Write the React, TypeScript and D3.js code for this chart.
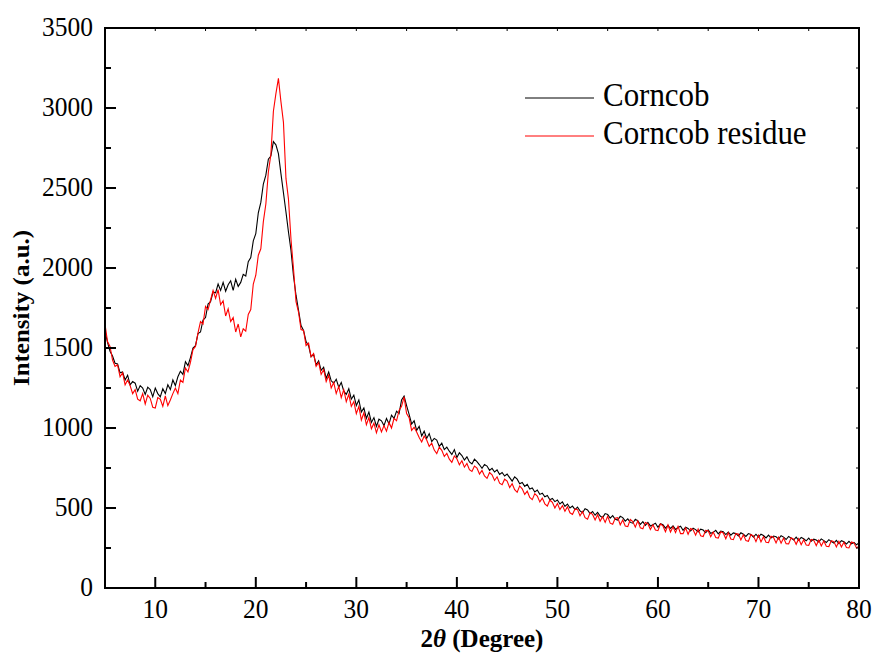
import React from "react";
import * as d3 from "d3";

// 2θ grid: 5° to 80° in 0.25° steps (301 points), one row per degree
const START = 5;
const STEP = 0.25;

// Corncob intensity (a.u.)
const corncob = [
  1605, 1535, 1480, 1450,
  1405, 1400, 1345, 1350,
  1300, 1330, 1270, 1290,
  1280, 1230, 1265, 1250,
  1210, 1255, 1240, 1195,
  1250, 1215, 1195, 1245,
  1215, 1270, 1240, 1300,
  1265, 1320, 1355, 1335,
  1415, 1390, 1440, 1500,
  1515, 1590, 1600, 1675,
  1690, 1775, 1790, 1850,
  1845, 1900, 1860, 1910,
  1855, 1895, 1920, 1860,
  1930, 1885, 1910, 1960,
  1950, 2040, 2065, 2170,
  2215, 2345, 2410, 2525,
  2580, 2680, 2700, 2790,
  2770, 2715, 2590, 2470,
  2350, 2225, 2110, 1950,
  1830, 1735, 1640, 1610,
  1540, 1515, 1445, 1460,
  1395, 1420, 1360, 1380,
  1310, 1350, 1295, 1280,
  1305, 1255, 1285, 1230,
  1210, 1245, 1180, 1205,
  1140, 1175, 1100, 1125,
  1060, 1100, 1035, 1065,
  1010, 1055, 1045, 1015,
  1060, 1025, 1080, 1060,
  1105, 1090, 1175, 1200,
  1140, 1085, 1025, 1045,
  985, 1010, 950, 980,
  935, 965, 915, 935,
  925, 885, 905, 865,
  880, 855, 835, 865,
  815, 845, 828, 800,
  820, 788, 775, 805,
  790, 770, 748, 772,
  762, 735, 748, 725,
  738, 710, 722, 700,
  712, 690, 668, 695,
  680, 652, 660, 635,
  648, 618, 625, 600,
  612, 585, 592, 570,
  578, 552, 560, 540,
  550, 525, 538, 510,
  525, 500, 512, 490,
  505, 482, 470, 495,
  488, 465, 478, 455,
  472, 450, 440, 465,
  460, 437, 452, 430,
  425, 448, 440, 418,
  432, 410, 405, 430,
  420, 398, 415, 392,
  410, 388, 396, 405,
  380, 402, 395, 374,
  392, 372, 388, 366,
  378, 386, 360, 380,
  372, 356, 374, 365,
  350, 368, 362, 345,
  363, 342, 348, 360,
  338, 356, 352, 334,
  350, 330, 344, 340,
  326, 345, 336, 322,
  340, 335, 318, 336,
  318, 336, 328, 313,
  331, 312, 325, 320,
  306, 327, 318, 303,
  322, 312, 300, 318,
  298, 316, 308, 295,
  312, 292, 305, 300,
  288, 307, 296, 284,
  302, 290, 281, 298,
  278, 296, 289, 275,
  292, 276, 285, 270,
  282,
];

// Corncob residue intensity (a.u.)
const corncobResidue = [
  1650, 1540, 1510, 1425,
  1385, 1395, 1320, 1345,
  1270, 1300, 1265, 1215,
  1240, 1180, 1170, 1215,
  1150, 1205, 1185, 1130,
  1125, 1190, 1180, 1135,
  1200, 1140, 1175, 1215,
  1250, 1215, 1300, 1285,
  1375, 1350, 1410, 1490,
  1510, 1595, 1665, 1650,
  1760, 1740, 1800, 1860,
  1810, 1865, 1770, 1795,
  1700, 1745, 1665, 1690,
  1600, 1650, 1570, 1620,
  1605, 1710, 1740, 1900,
  1955, 2080, 2120, 2290,
  2400, 2600, 2710, 2980,
  3090, 3185, 3040, 2910,
  2560, 2430, 2180, 1995,
  1790, 1725, 1615, 1610,
  1515, 1530, 1445, 1465,
  1385, 1410, 1335, 1365,
  1290, 1330, 1250, 1285,
  1215, 1260, 1190, 1240,
  1165, 1210, 1135, 1165,
  1090, 1135, 1050, 1095,
  1020, 1065, 995, 1030,
  970, 1020, 975, 1015,
  980, 1035, 1000, 1060,
  1045, 1110, 1135, 1195,
  1090, 1065, 985, 1005,
  975, 940, 912, 950,
  925, 885, 905, 862,
  840, 880, 860, 822,
  842, 805, 785, 825,
  808, 770, 795, 755,
  778, 740, 728, 762,
  750, 712, 735, 700,
  685, 722, 708, 672,
  695, 655, 645, 680,
  668, 628, 652, 615,
  598, 638, 620, 585,
  605, 566, 552, 590,
  575, 538, 562, 526,
  512, 550, 536, 500,
  528, 490, 515, 480,
  508, 470, 460, 494,
  490, 452, 478, 440,
  430, 470, 460, 425,
  458, 418, 445, 410,
  448, 405, 398, 436,
  440, 395, 425, 388,
  384, 428, 415, 380,
  420, 376, 370, 410,
  402, 366, 395, 362,
  358, 400, 388, 352,
  394, 350, 382, 346,
  386, 340, 340, 376,
  336, 372, 364, 330,
  368, 326, 322, 360,
  358, 320, 350, 315,
  312, 352, 344, 308,
  346, 306, 302, 340,
  338, 300, 332, 296,
  292, 334, 326, 290,
  330, 288, 320, 286,
  284, 324, 316, 282,
  318, 280, 312, 277,
  276, 314, 306, 273,
  308, 271, 302, 269,
  267, 304, 298, 265,
  300, 263, 294, 261,
  259, 296, 290, 257,
  292, 256, 286, 253,
  251, 288, 282, 250,
  262,
];

const seriesNames = ["Corncob", "Corncob residue"];
const seriesColors = ["#000000", "#ff0000"];

const xMajorTicks = [10, 20, 30, 40, 50, 60, 70, 80];
const xMinorTicks = [15, 25, 35, 45, 55, 65, 75];
const yMajorTicks = [0, 500, 1000, 1500, 2000, 2500, 3000, 3500];
const yMinorTicks = [250, 750, 1250, 1750, 2250, 2750, 3250];

const FONT = "'Liberation Serif', 'Times New Roman', Times, serif";
const SQ = 0.91; // glyphs in the source are slightly narrowed

export default function App() {
  const width = 878;
  const height = 657;
  const margin = { top: 28, right: 19, bottom: 69, left: 105 };
  const x0 = margin.left;
  const x1 = width - margin.right;
  const y0 = height - margin.bottom;
  const y1 = margin.top;

  const x = d3.scaleLinear().domain([5, 80]).range([x0, x1]);
  const y = d3.scaleLinear().domain([0, 3500]).range([y0, y1]);

  const line = d3
    .line<number>()
    .x((_, i) => x(START + i * STEP))
    .y((d) => y(d));

  const series = [corncob, corncobResidue];

  return (
    <div style={{ position: "absolute", left: 0, top: 0 }}>
      <svg width={width} height={height} style={{ display: "block", background: "#fff" }}>
        {/* data */}
        {series.map((s, k) => (
          <path
            key={k}
            d={line(s) || ""}
            fill="none"
            stroke={seriesColors[k]}
            strokeWidth={1.1}
            strokeLinejoin="miter"
          />
        ))}

        {/* frame */}
        <rect x={x0} y={y1} width={x1 - x0} height={y0 - y1} fill="none" stroke="#000" strokeWidth={2} />

        {/* left axis ticks */}
        {yMajorTicks.map((v) => (
          <line key={"ym" + v} x1={x0} x2={x0 + 11} y1={y(v)} y2={y(v)} stroke="#000" strokeWidth={2} />
        ))}
        {yMinorTicks.map((v) => (
          <line key={"yn" + v} x1={x0} x2={x0 + 6} y1={y(v)} y2={y(v)} stroke="#000" strokeWidth={2} />
        ))}
        {/* right axis tiny ticks */}
        {yMajorTicks.concat(yMinorTicks).map((v) => (
          <line key={"yr" + v} x1={x1 - 3} x2={x1} y1={y(v)} y2={y(v)} stroke="#000" strokeWidth={1} />
        ))}

        {/* bottom axis ticks */}
        {xMajorTicks.map((v) => (
          <line key={"xm" + v} x1={x(v)} x2={x(v)} y1={y0} y2={y0 - 11} stroke="#000" strokeWidth={2} />
        ))}
        {xMinorTicks.map((v) => (
          <line key={"xn" + v} x1={x(v)} x2={x(v)} y1={y0} y2={y0 - 6} stroke="#000" strokeWidth={2} />
        ))}
        {/* top axis tiny ticks */}
        {xMajorTicks.concat(xMinorTicks).map((v) => (
          <line key={"xt" + v} x1={x(v)} x2={x(v)} y1={y1} y2={y1 + 3} stroke="#000" strokeWidth={1} />
        ))}

        {/* tick labels */}
        {yMajorTicks.map((v) => (
          <text
            key={"yl" + v}
            transform={`translate(${x0 - 12},${y(v) + 7.5}) scale(${SQ},1)`}
            textAnchor="end"
            fontFamily={FONT}
            fontSize={28}
            fill="#000"
          >
            {v}
          </text>
        ))}
        {xMajorTicks.map((v) => (
          <text
            key={"xl" + v}
            transform={`translate(${x(v)},${y0 + 30}) scale(${SQ},1)`}
            textAnchor="middle"
            fontFamily={FONT}
            fontSize={28}
            fill="#000"
          >
            {v}
          </text>
        ))}

        {/* axis titles */}
        <text
          x={(x0 + x1) / 2}
          y={647}
          textAnchor="middle"
          fontFamily={FONT}
          fontSize={25}
          fontWeight="bold"
          fill="#000"
        >
          2<tspan fontStyle="italic">θ</tspan> (Degree)
        </text>
        <text
          transform={`translate(29,${(y0 + y1) / 2}) rotate(-90) scale(1,${SQ})`}
          textAnchor="middle"
          fontFamily={FONT}
          fontSize={25}
          fontWeight="bold"
          fill="#000"
        >
          Intensity (a.u.)
        </text>

        {/* legend */}
        {seriesNames.map((name, k) => (
          <g key={name}>
            <line x1={525} x2={594} y1={98 + k * 38} y2={98 + k * 38} stroke={seriesColors[k]} strokeWidth={1} />
            <text
              transform={`translate(603,${106 + k * 38}) scale(${SQ},1)`}
              fontFamily={FONT}
              fontSize={34}
              fill="#000"
            >
              {name}
            </text>
          </g>
        ))}
      </svg>
    </div>
  );
}
